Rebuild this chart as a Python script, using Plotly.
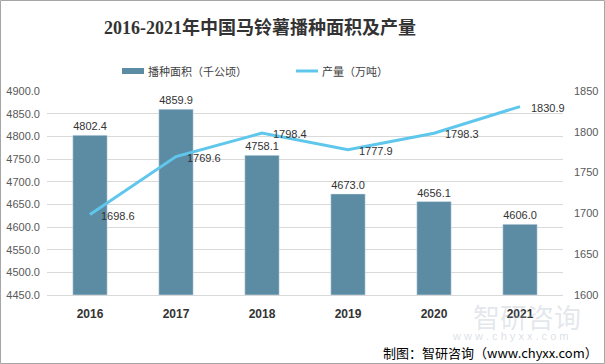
import plotly.graph_objects as go

years = ["2016", "2017", "2018", "2019", "2020", "2021"]
area = [4802.4, 4859.9, 4758.1, 4673.0, 4656.1, 4606.0]
output = [1698.6, 1769.6, 1798.4, 1777.9, 1798.3, 1830.9]
left_ticks = [4450, 4500, 4550, 4600, 4650, 4700, 4750, 4800, 4850, 4900]
right_ticks = [1600, 1650, 1700, 1750, 1800, 1850]
series_names = ["播种面积（千公顷）", "产量（万吨）"]

W, H = 605, 364
ML, MR, MT, MB = 47, 42, 91, 69
pw, ph = W - ML - MR, H - MT - MB
BAR_COLOR = "#5B8CA4"
LINE_COLOR = "#5FC6EC"
num_font = dict(size=11, color="#333333", family="Liberation Sans, sans-serif")

fig = go.Figure()
fig.add_trace(go.Bar(
    x=years, y=[a - 4450 for a in area], base=4450, name=series_names[0],
    marker=dict(color=BAR_COLOR), width=0.4, showlegend=False,
    text=[f"{a:.1f}" for a in area], textposition="outside",
    textfont=num_font, cliponaxis=False,
))
fig.add_trace(go.Scatter(
    x=years, y=output, name=series_names[1], yaxis="y2", mode="lines",
    line=dict(color=LINE_COLOR, width=3), showlegend=False,
))

def px_x(x):
    return (x - ML) / pw

def px_y(y):
    return 1 - (y - MT) / ph

legend_font = dict(size=11, color="#404040", family="Noto Sans CJK SC, sans-serif")

# category axis: annotation x uses category index
line_labels = [
    dict(x=i, y=v, xref="x", yref="y2", text=f"{v:.1f}", showarrow=False,
         xanchor="left", yanchor="middle", xshift=9, yshift=-1, font=num_font)
    for i, v in enumerate(output)
]

fig.update_layout(
    width=W, height=H,
    margin=dict(l=ML, r=MR, t=MT, b=MB, autoexpand=False),
    paper_bgcolor="white", plot_bgcolor="white",
    font=dict(family="Noto Sans CJK SC, sans-serif", color="#595959"),
    title=dict(text="<b>2016-2021年中国马铃薯播种面积及产量</b>",
               x=260 / W, xanchor="center", xref="container", y=1 - 28 / H, yanchor="middle",
               font=dict(family="Liberation Serif, Noto Sans CJK SC, serif", size=18, color="#333333")),
    showlegend=False,
    bargap=0.6,
    xaxis=dict(type="category", showgrid=False, showline=True, linecolor="#d9d9d9",
               ticks="", ticklabelstandoff=8, range=[-0.5, 5.5], automargin=False,
               tickfont=dict(size=12, color="#333333", family="Liberation Sans, sans-serif", weight="bold")),
    yaxis=dict(range=[4450, 4900], tickvals=left_ticks, ticktext=[f"{t:.1f}" for t in left_ticks],
               showgrid=True, gridcolor="#d9d9d9", zeroline=False, ticklabelstandoff=6, automargin=False,
               tickfont=dict(size=11, color="#595959", family="Liberation Sans, sans-serif")),
    yaxis2=dict(range=[1600, 1850], tickvals=right_ticks, overlaying="y", side="right",
                showgrid=False, zeroline=False, ticklabelstandoff=10, automargin=False,
                tickfont=dict(size=11, color="#595959", family="Liberation Sans, sans-serif")),
    shapes=[
        dict(type="rect", xref="paper", yref="paper",
             x0=px_x(0.5), x1=px_x(W - 0.5), y0=px_y(0.5), y1=px_y(H - 0.5),
             line=dict(color="#a6a6a6", width=1), layer="below"),
        dict(type="rect", xref="paper", yref="paper",
             x0=px_x(122), x1=px_x(144), y0=px_y(74), y1=px_y(68),
             line=dict(width=0), fillcolor=BAR_COLOR),
        dict(type="line", xref="paper", yref="paper",
             x0=px_x(296), x1=px_x(318), y0=px_y(71), y1=px_y(71),
             line=dict(color=LINE_COLOR, width=3)),
    ],
    annotations=line_labels + [
        dict(text=series_names[0], xref="paper", yref="paper", x=px_x(146), y=px_y(71),
             xanchor="left", yanchor="middle", showarrow=False, font=legend_font),
        dict(text=series_names[1], xref="paper", yref="paper", x=px_x(320), y=px_y(71),
             xanchor="left", yanchor="middle", showarrow=False, font=legend_font),
        dict(text="智研咨询", xref="paper", yref="paper", x=px_x(527), y=px_y(316),
             xanchor="center", yanchor="middle",
             showarrow=False, font=dict(size=27, color="rgba(160,175,190,0.30)")),
        dict(text="w w w . c h y x x . c o m", xref="paper", yref="paper", x=px_x(510), y=px_y(336),
             xanchor="center", yanchor="middle",
             showarrow=False, font=dict(size=11, color="rgba(160,175,190,0.40)", family="Liberation Sans")),
        dict(text="制图：智研咨询（www.chyxx.com）", xref="paper", yref="paper",
             x=px_x(600), y=px_y(352), xanchor="right", yanchor="middle",
             showarrow=False, font=dict(size=13, color="#000000")),
    ],
)

fig.write_html("out.html", config={"displayModeBar": False},
               post_script="document.body.style.margin='0';document.body.style.overflow='hidden';")
